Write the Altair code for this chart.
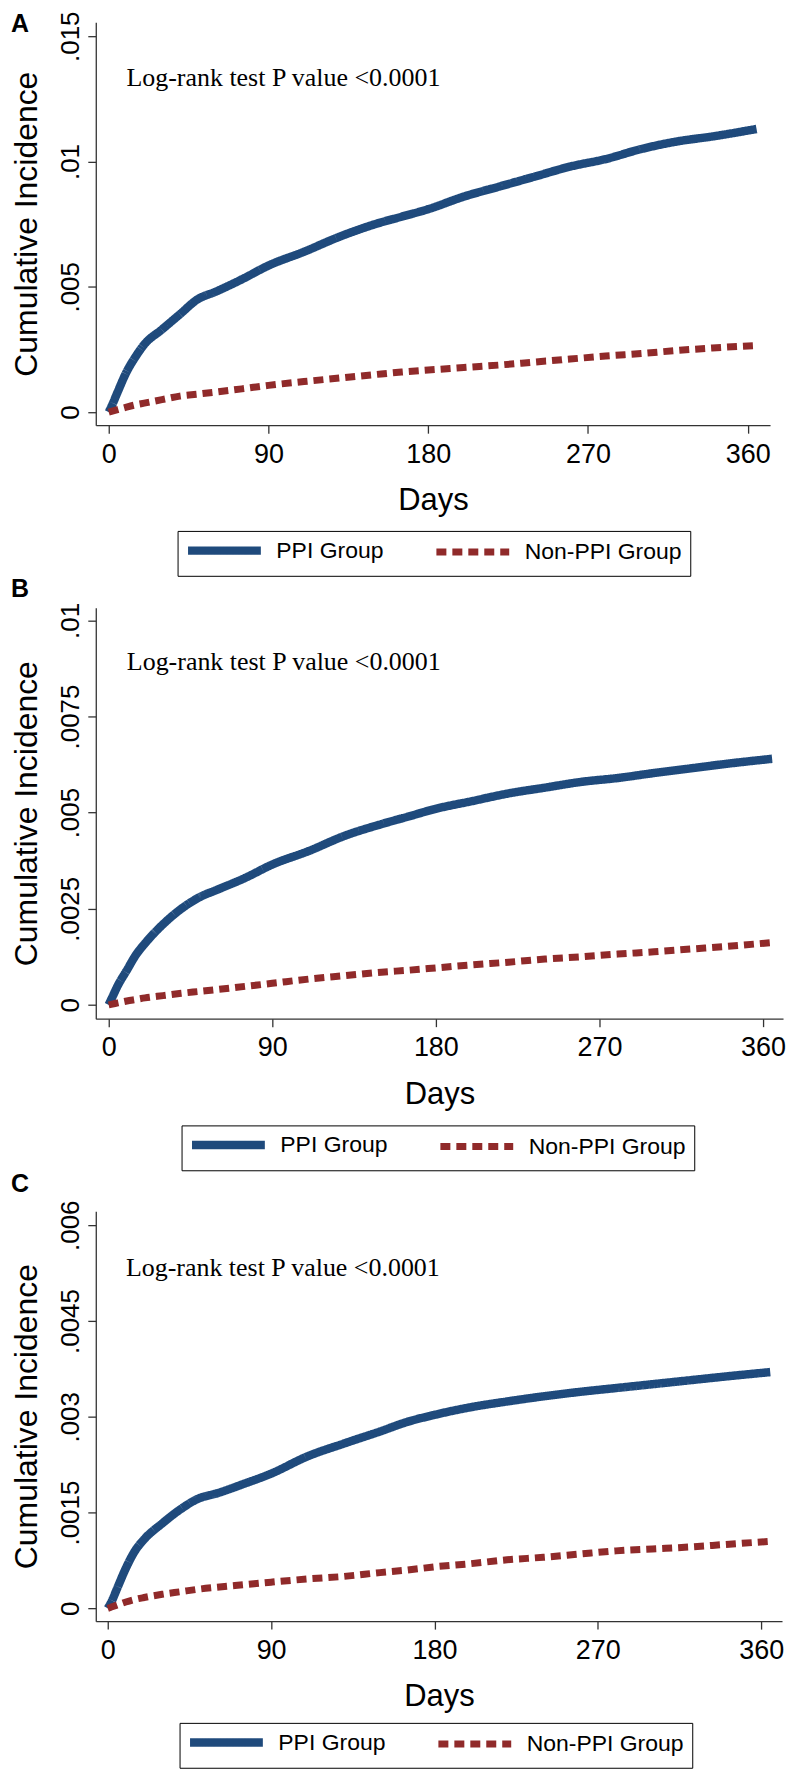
import altair as alt
import pandas as pd

# ---------------- data ----------------
days = [0, 2, 5, 10, 15, 20, 30, 40, 50, 60, 75, 90, 110, 130, 150, 165,
        180, 200, 220, 240, 260, 280, 300, 320, 340, 365]

ppi_a = [0, 0.0003, 0.0008, 0.0016, 0.0022, 0.0027, 0.0033, 0.0039, 0.0045, 0.0048,
         0.0053, 0.00585, 0.0064, 0.0070, 0.0075, 0.0078, 0.0081, 0.0086, 0.0090,
         0.0094, 0.0098, 0.0101, 0.0105, 0.0108, 0.0110, 0.0113]
non_a = [0, 0.00004, 0.0001, 0.0002, 0.00029, 0.00036, 0.0005, 0.00064, 0.00072, 0.0008,
         0.00093, 0.00107, 0.00122, 0.00136, 0.0015, 0.0016, 0.00168, 0.00178, 0.00188,
         0.002, 0.00212, 0.00224, 0.00234, 0.00246, 0.00256, 0.00266]

ppi_b = [0, 0.0002, 0.0005, 0.0009, 0.0013, 0.0016, 0.0021, 0.0025, 0.0028, 0.0030,
         0.0033, 0.00365, 0.0040, 0.0044, 0.0047, 0.0049, 0.0051, 0.0053, 0.0055,
         0.00565, 0.0058, 0.0059, 0.00603, 0.00615, 0.00627, 0.0064]
non_b = [0, 0.00002, 0.00005, 0.0001, 0.00014, 0.00018, 0.00024, 0.0003, 0.00035, 0.0004,
         0.00048, 0.00056, 0.00067, 0.00076, 0.00085, 0.0009, 0.00096, 0.00104, 0.00111,
         0.00119, 0.00125, 0.00132, 0.00138, 0.00145, 0.00152, 0.00162]

ppi_c = [0, 0.0001, 0.0003, 0.00063, 0.0009, 0.00108, 0.00133, 0.00155, 0.00172, 0.0018,
         0.00195, 0.00211, 0.00238, 0.00258, 0.00277, 0.00292, 0.00303, 0.00315, 0.00324,
         0.00332, 0.00339, 0.00345, 0.00351, 0.00357, 0.00363, 0.0037]
non_c = [0, 0.00002, 0.00005, 0.0001, 0.00014, 0.00017, 0.00022, 0.00026, 0.0003, 0.00033,
         0.00037, 0.00041, 0.00046, 0.0005, 0.00056, 0.0006, 0.00065, 0.0007, 0.00076,
         0.0008, 0.00085, 0.0009, 0.00093, 0.00096, 0.001, 0.00105]

groups = ["PPI Group", "Non-PPI Group"]
colors = ["#1f4a7c", "#902a2a"]

x_ticks = [0, 90, 180, 270, 360]
y_ticks_a = [0, 0.005, 0.01, 0.015]
y_labels_a = ["0", ".005", ".01", ".015"]
y_ticks_b = [0, 0.0025, 0.005, 0.0075, 0.01]
y_labels_b = ["0", ".0025", ".005", ".0075", ".01"]
y_ticks_c = [0, 0.0015, 0.003, 0.0045, 0.006]
y_labels_c = ["0", ".0015", ".003", ".0045", ".006"]

letters = ["A", "B", "C"]
annotation = "Log-rank test P value <0.0001"
x_title = "Days"
y_title = "Cumulative Incidence"

SANS = "Liberation Sans"
SERIF = "Liberation Serif"


def label_expr(values, labels):
    parts = [f"datum.value == {v} ? '{l}'" for v, l in zip(values, labels)]
    return " : ".join(parts) + " : datum.label"


def panel(letter, ppi, non, yt, yl, ydom, xdom, w, h, ann_y, lx, ly, toff):
    df = pd.DataFrame({
        "day": days + days,
        "value": ppi + non,
        "group": [groups[0]] * len(days) + [groups[1]] * len(days),
    })
    xs = alt.Scale(domain=xdom, nice=False, zero=False)
    ys = alt.Scale(domain=ydom, nice=False, zero=False)
    x_axis = alt.Axis(values=x_ticks, title=x_title, labelPadding=8, titlePadding=19,
                      titleFontSize=31, labelFlush=False)
    y_axis = alt.Axis(values=yt, labelExpr=label_expr(yt, yl), title=y_title,
                      labelAngle=270, labelAlign="center", labelBaseline="bottom",
                      labelFontSize=26, labelPadding=4, titlePadding=14,
                      titleFontSize=32, labelFlush=False)
    leg = alt.Legend(title=None, orient="none", legendX=lx, legendY=ly,
                     direction="horizontal",
                     symbolType="M-1.8,0H12.8", symbolSize=100, symbolStrokeWidth=8,
                     labelFontSize=23, labelFont=SANS, labelColor="black",
                     labelOffset=68, columnPadding=38, padding=8,
                     strokeColor="black", fillColor="white", labelLimit=400)
    lines = alt.Chart(df).mark_line(strokeCap="butt", interpolate="monotone").encode(
        x=alt.X("day:Q", scale=xs, axis=x_axis),
        y=alt.Y("value:Q", scale=ys, axis=y_axis),
        color=alt.Color("group:N", scale=alt.Scale(domain=groups, range=colors), legend=leg),
        strokeDash=alt.StrokeDash("group:N",
                                  scale=alt.Scale(domain=groups, range=[[1, 0], [10, 6]]),
                                  legend=leg),
        strokeWidth=alt.StrokeWidth("group:N",
                                    scale=alt.Scale(domain=groups, range=[8.5, 7]),
                                    legend=None),
    )
    ann_df = pd.DataFrame({"day": [10], "value": [ann_y], "label": [annotation]})
    ann = alt.Chart(ann_df).mark_text(font=SERIF, fontSize=26, align="left",
                                      baseline="alphabetic", color="black").encode(
        x=alt.X("day:Q", scale=xs, axis=x_axis),
        y=alt.Y("value:Q", scale=ys, axis=y_axis),
        text="label:N",
    )
    return alt.layer(lines, ann).properties(
        width=w, height=h,
        title=alt.TitleParams(text=letter, anchor="start", frame="bounds", fontSize=25,
                              fontWeight="bold", font=SANS, color="black",
                              baseline="top", offset=toff),
    )


pA = panel(letters[0], ppi_a, non_a, y_ticks_a, y_labels_a, [-0.00052, 0.01556],
           [-7.3, 372.6], 676, 404, 0.01301, 82, 510, -26)
pB = panel(letters[1], ppi_b, non_b, y_ticks_b, y_labels_b, [-0.00036, 0.01033],
           [-7.1, 371.0], 689, 412, 0.0087, 86, 519, 0)
pC = panel(letters[2], ppi_c, non_c, y_ticks_c, y_labels_c, [-0.0002, 0.00622],
           [-6.6, 371.5], 688, 411, 0.0052, 84, 513, 3)

chart = alt.vconcat(pA, pB, pC, spacing=0).resolve_scale(
    color="independent", strokeDash="independent", strokeWidth="independent"
).resolve_legend(
    color="independent", strokeDash="independent"
).properties(
    padding={"left": 3, "top": 0, "right": 0, "bottom": 0}
).configure_view(strokeWidth=0).configure_axis(
    domainColor="#333333", tickColor="#333333", domainWidth=1.3, tickWidth=1.3,
    tickSize=8, labelColor="black", titleColor="black", labelFont=SANS, titleFont=SANS,
    labelFontSize=27, titleFontWeight="normal", grid=False,
).configure_title(color="black")

chart.save("out.html", embed_options={"renderer": "svg", "actions": False})
